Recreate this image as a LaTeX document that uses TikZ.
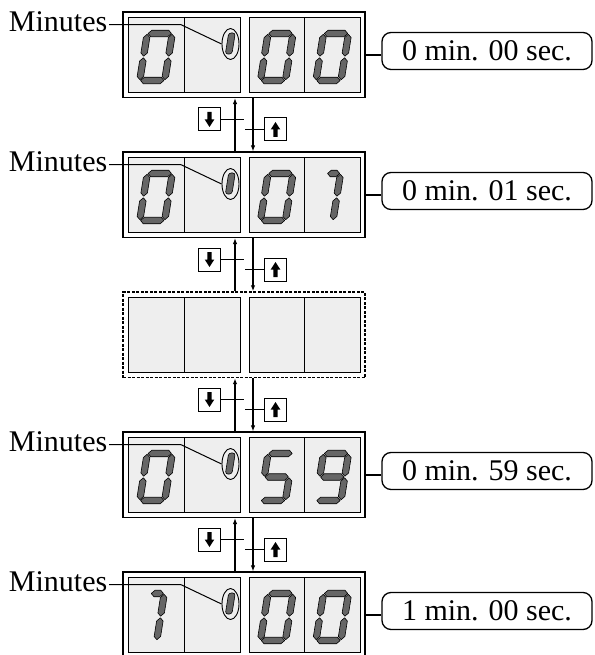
\documentclass[tikz,border=0pt]{standalone}
\usepackage{fontspec}
\setmainfont{Liberation Serif}
\usetikzlibrary{arrows.meta,shapes.geometric}
\definecolor{cellgray}{HTML}{EEEEEE}
\definecolor{seggray}{HTML}{666666}
\tikzset{
 panel/.style={draw, line width=1.2pt, fill=white, minimum width=242pt, minimum height=85.5pt, inner sep=0pt},
 dpanel/.style={panel, dash pattern=on 3pt off 1.5pt, line width=1.4pt},
 cellL/.style={draw, line width=0.9pt, fill=cellgray, minimum width=56pt, minimum height=75pt, inner sep=0pt},
 cellR/.style={cellL, minimum width=55.5pt},
 seg/.style={fill=seggray, draw=black, line width=0.6pt, line join=round},
 lbl/.style={font=\fontsize{30}{32}\selectfont, inner sep=1.5pt},
 rbox/.style={draw, line width=1.3pt, rounded corners=9pt, minimum width=210pt, minimum height=37pt, font=\fontsize{30}{32}\selectfont, inner sep=0pt},
 zring/.style={draw, ellipse, line width=0.9pt, minimum width=17pt, minimum height=31pt, inner sep=0pt},
 lead/.style={line width=1pt},
 conn/.style={line width=1.6pt},
 vline/.style={line width=1.5pt},
 btn/.style={draw, line width=1pt, minimum width=22pt, minimum height=23pt, inner sep=0pt, fill=white},
 tip/.style={-{Latex[length=6pt,width=4.5pt]}},
}
\newcommand\HSg[1]{\filldraw[seg] (-11.7,#1) -- ++(3.25,-3.25) -- ++(16.9,0) -- ++(3.25,3.25) -- ++(-3.25,3.25) -- ++(-16.9,0) -- cycle;}
\newcommand\VSg[2]{\filldraw[seg] (#1,#2) -- ++(3.25,3.25) -- ++(0,15.4) -- ++(-3.25,3.25) -- ++(-3.25,-3.25) -- ++(0,-15.4) -- cycle;}
\newcommand\SegA{\HSg{-23.5}}
\newcommand\SegG{\HSg{0}}
\newcommand\SegD{\HSg{23.5}}
\newcommand\SegF{\VSg{-12.5}{-22.7}}
\newcommand\SegB{\VSg{12.5}{-22.7}}
\newcommand\SegE{\VSg{-12.5}{0.8}}
\newcommand\SegC{\VSg{12.5}{0.8}}
\newcommand\DgZero[1]{\begin{scope}[shift={(#1)},xslant=0.16]\SegA\SegB\SegC\SegD\SegE\SegF\end{scope}}
\newcommand\DgFive[1]{\begin{scope}[shift={(#1)},xslant=0.16]\SegA\SegF\SegG\SegC\SegD\end{scope}}
\newcommand\DgNine[1]{\begin{scope}[shift={(#1)},xslant=0.16]\SegA\SegB\SegC\SegD\SegF\SegG\end{scope}}
\newcommand\DgOne[1]{\begin{scope}[shift={(#1)},xshift=-8pt,xslant=0.16]
 \filldraw[seg] (-0.5,-23.5) -- ++(3.25,-3.25) -- ++(5.7,0) -- ++(3.25,3.25) -- ++(-3.25,3.25) -- ++(-5.7,0) -- cycle;
 \SegB\SegC\end{scope}}
\newcommand\TinyZero[1]{\begin{scope}[shift={(#1)},xslant=0.16]\filldraw[seg, rounded corners=2.5pt] (-3.3,-10.5) rectangle (3.3,10.5);\end{scope}}
% panel: #1 name, #2 top, #3 style
\newcommand\Panel[3]{%
 \node[#3] (p#1) at (244,#2+42.75) {};
 \node[cellL] (c#1a) at (156,#2+42.75) {};
 \node[cellL] (c#1b) at (212,#2+42.75) {};
 \node[cellR] (c#1c) at (276.75,#2+42.75) {};
 \node[cellR] (c#1d) at (332.25,#2+42.75) {};
}
\newcommand\MinLabel[2]{%
 \node[zring] (z#1) at (230.5,#2+32) {};
 \TinyZero{230.3,#2+31.5}
 \node[lbl, anchor=base east] (m#1) at (109,#2+19.7) {Minutes};
 \draw[lead] ([yshift=7pt]m#1.base east) -- ++(72,0) -- (z#1.west);
}
\newcommand\TimeBox[3]{%
 \node[rbox] (r#1) at (487,#2+39) {#3};
 \draw[conn] (p#1.east) -- (p#1.east -| r#1.west);
}
% gap: #1 upper panel, #2 lower panel, #3 bottom y of upper panel
\newcommand\Gap[3]{%
 \node[btn] (bd#1) at (209.5,#3+22) {};
 \node[btn] (bu#1) at (275.5,#3+32) {};
 \begin{scope}[shift={(bd#1.center)}]
  \fill (-2.2,-7.5) -- (2.2,-7.5) -- (2.2,0) -- (4.8,0) -- (0,7.5) -- (-4.8,0) -- (-2.2,0) -- cycle;
 \end{scope}
 \begin{scope}[shift={(bu#1.center)}]
  \fill (-2.2,7.5) -- (2.2,7.5) -- (2.2,0) -- (4.8,0) -- (0,-7.5) -- (-4.8,0) -- (-2.2,0) -- cycle;
 \end{scope}
 \draw[vline, tip] ([xshift=-9pt]p#2.north) -- ([xshift=-9pt]p#1.south);
 \draw[vline, tip] ([xshift=9pt]p#1.south) -- ([xshift=9pt]p#2.north);
 \draw[conn] (bd#1.east) -- ++(23,0);
 \draw[conn] (bu#1.west) -- ++(-19.5,0);
}
\begin{document}
\begin{tikzpicture}[x=1pt,y=-1pt]
\useasboundingbox (0,0) rectangle (594,655);
% panel 1
\Panel{1}{12}{panel}
\DgZero{156,57}
\DgZero{276.75,57}
\DgZero{332.25,57}
\MinLabel{1}{12}
\TimeBox{1}{12}{0 min. 00 sec.}
% panel 2
\Panel{2}{152}{panel}
\DgZero{156,197}
\DgZero{276.75,197}
\DgOne{332.25,197}
\MinLabel{2}{152}
\TimeBox{2}{152}{0 min. 01 sec.}
% panel 3 (dashed)
\Panel{3}{292}{dpanel}
% panel 4
\Panel{4}{432}{panel}
\DgZero{156,477}
\DgFive{276.75,477}
\DgNine{332.25,477}
\MinLabel{4}{432}
\TimeBox{4}{432}{0 min. 59 sec.}
% panel 5
\Panel{5}{572}{panel}
\DgOne{156,617}
\DgZero{276.75,617}
\DgZero{332.25,617}
\MinLabel{5}{572}
\TimeBox{5}{572}{1 min. 00 sec.}
% gaps
\Gap{1}{2}{97.5}
\Gap{2}{3}{237.5}
\Gap{3}{4}{377.5}
\Gap{4}{5}{517.5}
\end{tikzpicture}
\end{document}
